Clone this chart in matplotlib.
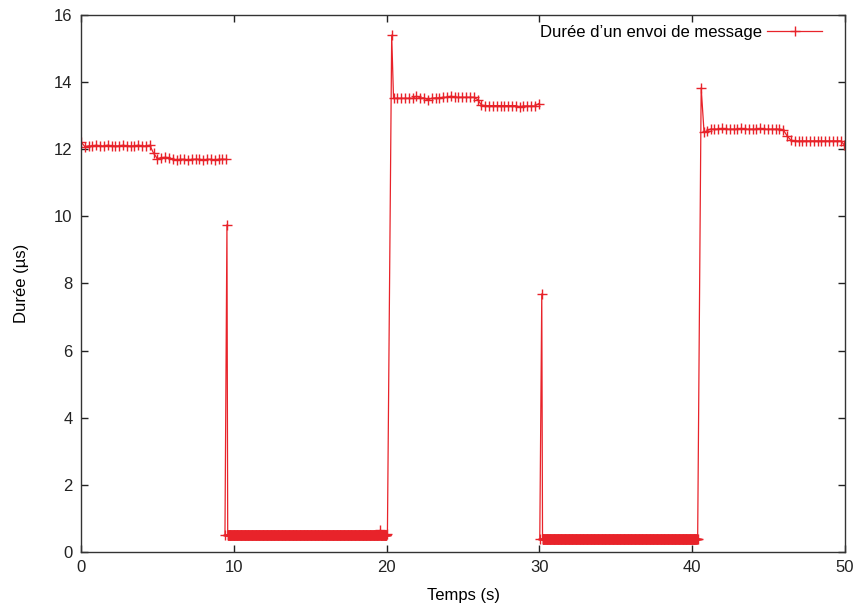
import numpy as np
import matplotlib
matplotlib.use("Agg")
import matplotlib.pyplot as plt

plt.rcParams['font.family'] = ['Liberation Sans', 'DejaVu Sans']

RED = '#e8232a'

# high plateau 1 : sampled every 0.25 s from 0 to 9.5 s
high1_t = np.arange(0.0, 9.51, 0.25)
high1_v = [12.22,
           12.08, 12.10, 12.10, 12.12, 12.10, 12.10, 12.12, 12.10, 12.10,
           12.10, 12.12, 12.10, 12.10, 12.10, 12.12, 12.10, 12.10, 12.12,
           11.88, 11.72, 11.75, 11.76, 11.75,
           11.70, 11.68, 11.70, 11.70, 11.68, 11.70, 11.70, 11.70, 11.68,
           11.70, 11.70, 11.68, 11.70, 11.70, 11.70]

# low plateau 1 (dense sampling)
low1_head_t = [9.42, 9.55]
low1_head_v = [0.50, 9.75]
low1_t = np.arange(9.60, 20.0, 0.02)
low1_level = 0.50
low1_bump_t = 19.57
low1_bump_v = 0.65
low1_tail_t = [20.05]
low1_tail_v = [0.53]

# high plateau 2
high2_head_t = [20.33]
high2_head_v = [15.40]
high2_t = np.arange(20.45, 29.96, 0.25)
high2_v = [13.52, 13.52, 13.52, 13.52, 13.52, 13.52,
           13.58,
           13.53, 13.53,
           13.47,
           13.52, 13.53, 13.53, 13.55, 13.55,
           13.58,
           13.55, 13.55, 13.55, 13.55, 13.55, 13.55,
           13.48,
           13.32,
           13.30, 13.30, 13.30, 13.30, 13.30, 13.30, 13.30, 13.30, 13.30,
           13.26,
           13.29, 13.29, 13.29, 13.29,
           13.36]

# low plateau 2 (dense sampling)
low2_head_t = [30.02, 30.15]
low2_head_v = [0.40, 7.69]
low2_t = np.arange(30.20, 40.31, 0.02)
low2_level = 0.40
low2_tail_t = [40.35]
low2_tail_v = [0.39]

# high plateau 3
high3_head_t = [40.58, 40.77, 40.95]
high3_head_v = [13.83, 12.50, 12.55]
high3_t = np.arange(41.20, 49.96, 0.25)
high3_v = [12.60, 12.60, 12.60, 12.62, 12.60, 12.60, 12.60, 12.60, 12.62, 12.60,
           12.60, 12.60, 12.60, 12.62, 12.60, 12.60, 12.60, 12.60, 12.60,
           12.58, 12.40, 12.27,
           12.25, 12.25, 12.25, 12.25, 12.25, 12.25, 12.25, 12.25, 12.25,
           12.25, 12.25, 12.25, 12.25,
           12.13]

low1_v = np.full(len(low1_t), low1_level)
low1_v[np.argmin(np.abs(low1_t - low1_bump_t))] = low1_bump_v
low2_v = np.full(len(low2_t), low2_level)

# gaps (NaN) where the recorded curve is broken
t = np.concatenate([high1_t, [np.nan],
                    low1_head_t, low1_t, low1_tail_t,
                    high2_head_t, high2_t, [np.nan],
                    low2_head_t, low2_t, low2_tail_t,
                    high3_head_t, high3_t])
v = np.concatenate([high1_v, [np.nan],
                    low1_head_v, low1_v, low1_tail_v,
                    high2_head_v, high2_v, [np.nan],
                    low2_head_v, low2_v, low2_tail_v,
                    high3_head_v, high3_v])

fig = plt.figure(figsize=(8.58, 6.07), dpi=100)
ax = fig.add_axes([0.0944, 0.0906, 0.8906, 0.8847])

ax.plot(t, v, color=RED, linewidth=0.9, marker='+', markersize=7,
        markeredgewidth=1.0, label='Durée d’un envoi de message')

ax.set_xlim(0, 50)
ax.set_ylim(0, 16)
ax.set_xticks(range(0, 51, 10))
ax.set_yticks(range(0, 17, 2))
ax.tick_params(direction='in', length=5, width=1, top=True, right=True,
               labelsize=12, colors='#222222', pad=6)
for s in ax.spines.values():
    s.set_color('#333333')
    s.set_linewidth(1)

ax.set_xlabel('Temps (s)', fontsize=12, labelpad=9)
ax.set_ylabel('Durée (µs)', fontsize=12, labelpad=18)

ax.legend(loc='upper right', bbox_to_anchor=(0.970, 0.981), frameon=False,
          markerfirst=False, fontsize=12, handlelength=3.3, handletextpad=0.3,
          borderaxespad=0, borderpad=0)

fig.savefig('out.png', dpi=100)
